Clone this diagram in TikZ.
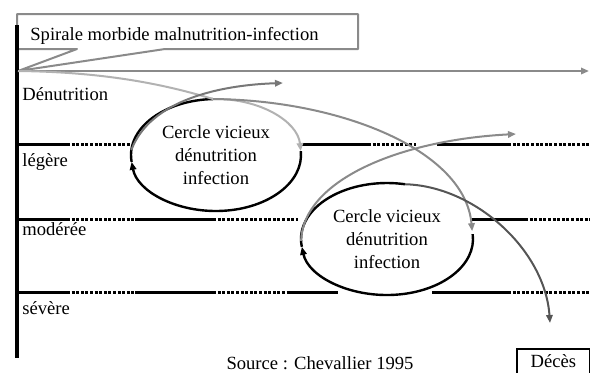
\documentclass[tikz,border=0pt]{standalone}
\usepackage{fontspec}
\setmainfont{Liberation Serif}
\usepackage{tikz}
\usetikzlibrary{arrows.meta,shapes.geometric}
\definecolor{grisclair}{HTML}{B2B2B2}
\definecolor{grismoyen}{HTML}{8A8A8A}
\definecolor{grisfonce}{HTML}{555555}

\begin{document}
\begin{tikzpicture}[x=0.5pt,y=-0.5pt,
  every node/.style={font=\fontsize{9.3pt}{11.5pt}\selectfont, inner sep=0pt},
  cercle/.style={ellipse, minimum width=85pt, minimum height=56pt, align=center},
  plein/.style={line width=1.5pt},
  pointille/.style={line width=1.5pt, dash pattern=on 1.5pt off 0.8pt},
  fleche/.style={line width=1pt, -{Triangle[length=4pt,width=3.2pt]}},
  boucle/.style={line width=1.2pt}]
  \useasboundingbox (0,0) rectangle (590,372);
  \clip (0,0) rectangle (590,372);
  \coordinate (origine) at (18,71);
  \coordinate (temps) at (589,71);
  \coordinate (sortieA) at (283,83);
  \coordinate (sortieB) at (516,134);
  \coordinate (mort) at (550,323);
  \node (spirale) [anchor=base west] at (30,40) {Spirale morbide malnutrition-infection};
  \draw[grismoyen, line width=1pt, line join=round] (165,49) -- (358,49) -- (358,14) -- (17,14) -- (17,49) -- (77,49) -- (origine) -- cycle;
  \draw[line width=2.2pt] (17,25) -- (17,358);
  \draw[grismoyen, fleche] (origine) -- (temps);
  \foreach \txt/\y [count=\i] in {Dénutrition/100, légère/166, modérée/235, sévère/314}
    \node (niveau\i) [anchor=base west] at (22,\y) {\txt};
  \foreach \y/\a/\b in {144/17/67, 144/302/368, 144/437/508, 219/17/67, 219/135/213, 219/470/525, 292/17/67, 292/135/213, 292/290/338, 292/432/508}
    \draw[plein] (\a,\y) -- (\b,\y);
  \foreach \y/\a/\b in {144/67/130, 144/368/416, 144/508/590, 219/67/135, 219/213/298, 219/525/590, 292/67/135, 292/213/290, 292/508/590}
    \draw[pointille] (\a,\y) -- (\b,\y);
  \node[cercle] (cercleA) at (216,155) {Cercle vicieux\\dénutrition\\infection};
  \node[cercle] (cercleB) at (387,239) {Cercle vicieux\\dénutrition\\infection};
  \path (cercleB) ++(-8:86 and 56) coordinate (entreeB);
  \draw[boucle, -{Triangle[length=4pt,width=3.2pt]}] (cercleA) ++(-4:85 and 56) arc[start angle=-4, end angle=173, x radius=85, y radius=56];
  \draw[boucle] (cercleA) ++(173:85 and 56) arc[start angle=173, end angle=268, x radius=85, y radius=56] coordinate (hautA);
  \draw[grisclair, fleche] (origine) .. controls (110,72) and (170,86) .. (hautA) arc[start angle=268, end angle=356, x radius=85, y radius=56];
  \draw[grisfonce!80, fleche] (cercleA) ++(185:85 and 56) .. controls (150,100) and (220,85) .. (sortieA);
  \draw[grismoyen, fleche] (hautA) .. controls (340,100) and (465,150) .. (entreeB);
  \draw[boucle, -{Triangle[length=4pt,width=3.2pt]}] (cercleB) ++(-5:86 and 56) arc[start angle=-5, end angle=172, x radius=86, y radius=56];
  \draw[boucle] (cercleB) ++(172:86 and 56) arc[start angle=172, end angle=282, x radius=86, y radius=56] coordinate (hautB);
  \draw[grisfonce, fleche] (hautB) .. controls (475,186) and (545,250) .. (mort);
  \draw[grismoyen, fleche] (cercleB) ++(178:86 and 56) .. controls (303,180) and (400,140) .. (sortieB);
  \node (deces) [draw, line width=0.8pt, anchor=north west, minimum width=36.5pt, inner ysep=3pt, text depth=2pt] at (516,348) {Décès};
  \node (source) [anchor=base] at (320,369) {Source : Chevallier 1995};
\end{tikzpicture}
\end{document}
